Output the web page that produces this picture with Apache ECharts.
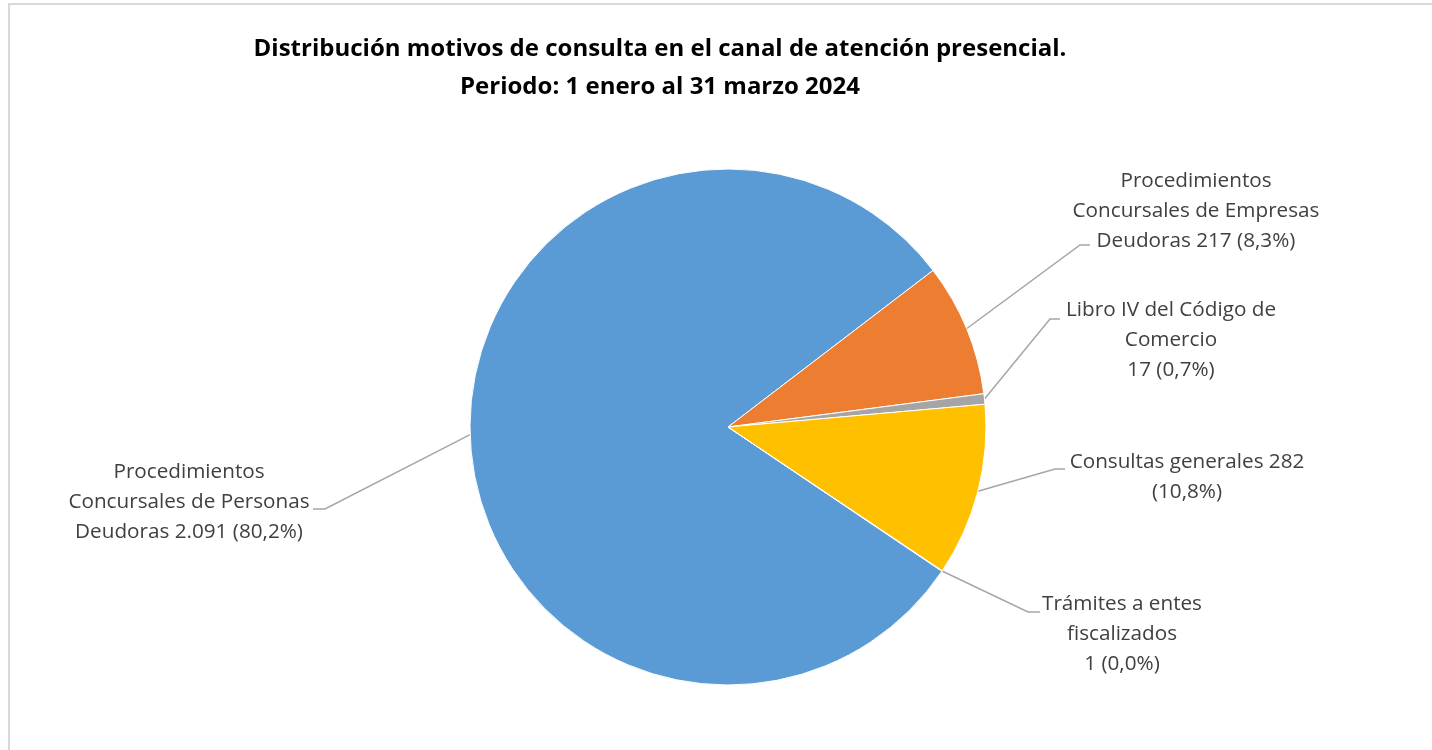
<!DOCTYPE html>
<html>
<head>
<meta charset="utf-8">
<script src="https://cdn.jsdelivr.net/npm/echarts@6/dist/echarts.min.js"></script>
<style>
html,body{margin:0;padding:0;background:#fff;}
#chart{width:1432px;height:750px;}
</style>
</head>
<body>
<div id="chart"></div>
<script>
// ---- data ----
var titleLines = ['Distribución motivos de consulta en el canal de atención presencial.', 'Periodo: 1 enero al 31 marzo 2024'];
var categories = [
  'Procedimientos Concursales de Personas Deudoras',
  'Procedimientos Concursales de Empresas Deudoras',
  'Libro IV del Código de Comercio',
  'Consultas generales',
  'Trámites a entes fiscalizados'
];
var values = [2091, 217, 17, 282, 1];
// label text templates ({v} = value, {p} = percent)
var labelTemplates = [
  'Procedimientos\nConcursales de Personas\nDeudoras {v} ({p})',
  'Procedimientos\nConcursales de Empresas\nDeudoras {v} ({p})',
  'Libro IV del Código de\nComercio\n{v} ({p})',
  'Consultas generales {v}\n({p})',
  'Trámites a entes\nfiscalizados\n{v} ({p})'
];
var colors = ['#5B9BD5', '#ED7D31', '#A5A5A5', '#FFC000', '#4472C4'];

// ---- layout (label centres, leader elbows & ends) ----
var labelPos = [
  {x: 189, y: 502, elbow: [325, 509], end: [313, 509]},
  {x: 1196, y: 211, elbow: [1080, 245], end: [1090, 245]},
  {x: 1171, y: 340, elbow: [1050, 319], end: [1060, 319]},
  {x: 1187, y: 477, elbow: [1055, 469], end: [1065, 469]},
  {x: 1122, y: 634, elbow: [1028, 612], end: [1040, 612]}
];

function fmtNum(n) {
  return String(n).replace(/\B(?=(\d{3})+(?!\d))/g, '.');
}
var total = values.reduce(function (a, b) { return a + b; }, 0);

var chart = echarts.init(document.getElementById('chart'), null, {renderer: 'canvas'});
var font = '"Open Sans", "Liberation Sans", sans-serif';

chart.setOption({
  backgroundColor: '#ffffff',
  animation: false,
  graphic: [
    {type: 'rect', shape: {x: 9, y: 4, width: 1440, height: 800}, style: {fill: 'none', stroke: '#d9d9d9', lineWidth: 2}, silent: true},
    {type: 'text', x: 660, y: 49, style: {text: titleLines[0], textAlign: 'center', textVerticalAlign: 'middle', font: 'bold 24px ' + font, fill: '#000000'}},
    {type: 'text', x: 660, y: 87, style: {text: titleLines[1], textAlign: 'center', textVerticalAlign: 'middle', font: 'bold 24px ' + font, fill: '#000000'}}
  ],
  series: [{
    type: 'pie',
    center: [728, 427],
    radius: 258,
    startAngle: -34,
    clockwise: true,
    avoidLabelOverlap: false,
    minAngle: 0,
    itemStyle: {borderColor: '#ffffff', borderWidth: 1},
    label: {
      show: true,
      position: 'outside',
      fontFamily: font,
      fontSize: 20.7,
      lineHeight: 30,
      color: '#404040',
      align: 'center',
      formatter: function (p) {
        var pct = (values[p.dataIndex] / total * 100).toFixed(1).replace('.', ',') + '%';
        return labelTemplates[p.dataIndex].replace('{v}', fmtNum(values[p.dataIndex])).replace('{p}', pct);
      }
    },
    labelLine: {show: true, lineStyle: {color: '#a6a6a6', width: 1.5}},
    labelLayout: function (params) {
      var lp = labelPos[params.dataIndex];
      var p0 = params.labelLinePoints ? params.labelLinePoints[0] : lp.elbow;
      return {
        x: lp.x,
        y: lp.y,
        align: 'center',
        verticalAlign: 'middle',
        labelLinePoints: [p0, lp.elbow, lp.end]
      };
    },
    data: categories.map(function (c, i) {
      return {name: c, value: values[i], itemStyle: {color: colors[i]}};
    })
  }]
});
</script>
</body>
</html>
